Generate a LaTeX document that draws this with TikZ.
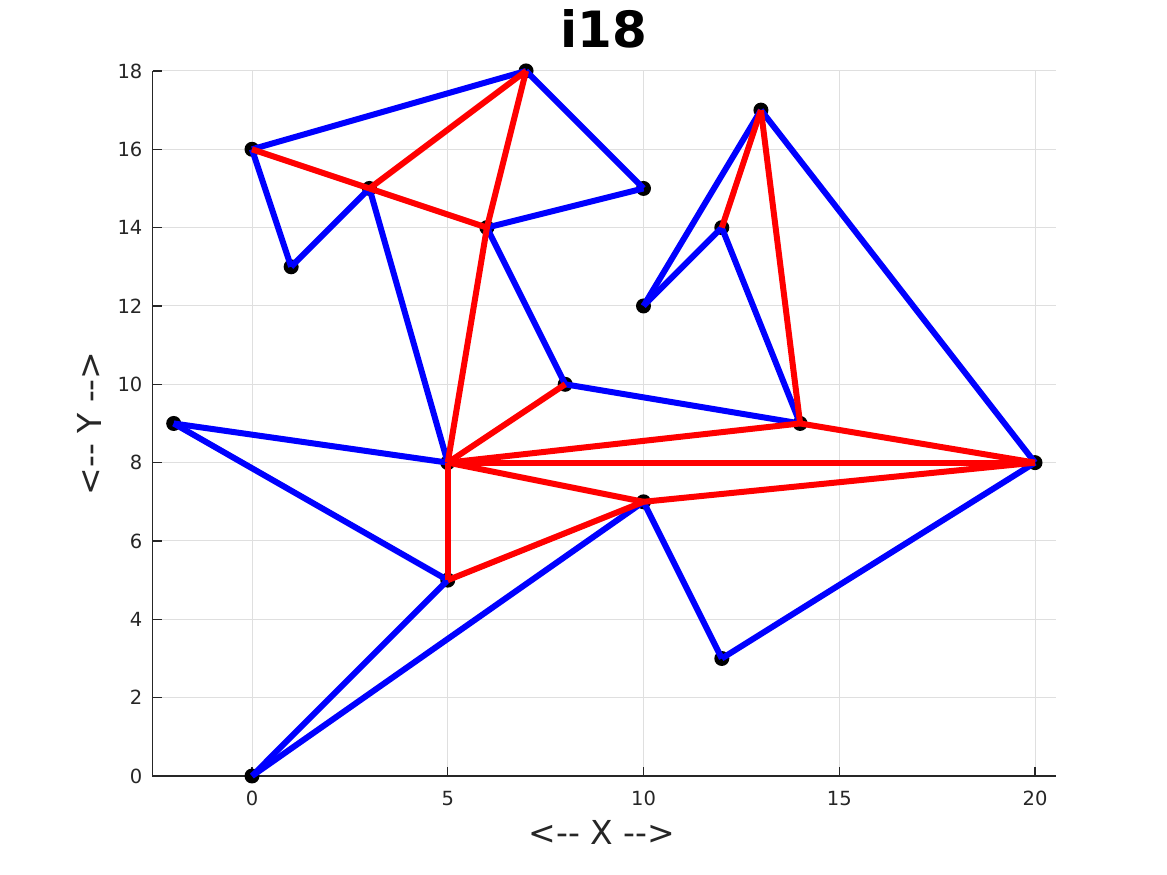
\documentclass[tikz,border=0pt]{standalone}
\usepackage{fontspec}
\setmainfont{DejaVu Sans}
\definecolor{gridgray}{HTML}{DFDFDF}
\definecolor{axisgray}{HTML}{262626}
\tikzset{
  gridline/.style={draw=gridgray, line width=1pt},
  axisline/.style={draw=axisgray, line width=1.2pt},
  dot/.style={circle, fill=black, inner sep=0pt, minimum size=15pt},
  bedge/.style={draw=blue, line width=6pt},
  redge/.style={draw=red, line width=6pt},
  ticklab/.style={text=axisgray, font=\fontsize{19.5}{23}\selectfont, inner sep=0pt},
  axlabel/.style={text=axisgray, font=\fontsize{33}{38}\selectfont, inner sep=0pt, anchor=base},
  titlelab/.style={text=black, font=\bfseries\fontsize{50}{56}\selectfont, inner sep=0pt, anchor=base}
}
\begin{document}
\begin{tikzpicture}[x=39.15pt, y=39.17pt]
\useasboundingbox (-252pt,-99pt) rectangle (915pt,776pt);
% grid
\foreach \yy in {0,2,...,18} \draw[gridline] (-2.54,\yy) -- (20.54,\yy);
\foreach \xx in {0,5,10,15,20} \draw[gridline] (\xx,0) -- (\xx,18);
% axes
\draw[axisline] (-2.54,18) -- (-2.54,0) -- (20.54,0);
\foreach \xx in {0,5,10,15,20} {
  \draw[axisline] (\xx,0) -- ++(0,9pt);
  \node[ticklab, anchor=base] at ([yshift=-30pt]\xx,0) {\xx};
}
\foreach \yy in {0,2,...,18} {
  \draw[axisline] (-2.54,\yy) -- ++(9pt,0);
  \node[ticklab, anchor=east] at ([xshift=-10pt]-2.54,\yy) {\yy};
}
% labels
\node[axlabel] (xl) at (350pt,-69pt) {<{-}{-} X {-}{-}>};
\node[axlabel, rotate=90] (yl) at (-150pt,352.5pt) {<{-}{-} Y {-}{-}>};
\node[titlelab] (tt) at (352pt,728pt) {i18};
% points
\node[dot] (a) at (0,16) {};
\node[dot] (b) at (1,13) {};
\node[dot] (c) at (3,15) {};
\node[dot] (d) at (7,18) {};
\node[dot] (e) at (10,15) {};
\node[dot] (f) at (6,14) {};
\node[dot] (g) at (8,10) {};
\node[dot] (h) at (5,8) {};
\node[dot] (i) at (-2,9) {};
\node[dot] (j) at (5,5) {};
\node[dot] (k) at (0,0) {};
\node[dot] (l) at (10,7) {};
\node[dot] (m) at (12,3) {};
\node[dot] (n) at (20,8) {};
\node[dot] (o) at (14,9) {};
\node[dot] (p) at (12,14) {};
\node[dot] (q) at (10,12) {};
\node[dot] (r) at (13,17) {};
% blue edges
\foreach \s/\t in {a/d, d/e, a/b, b/c, c/h, f/e, f/g, g/o, i/h, i/j, j/k, k/l, l/m, m/n, q/r, q/p, p/o, r/n}
  \draw[bedge] (\s.center) -- (\t.center);
% red edges
\foreach \s/\t in {a/c, c/f, c/d, d/f, f/h, h/g, h/o, h/n, h/l, h/j, j/l, l/n, o/n, o/r, r/p}
  \draw[redge] (\s.center) -- (\t.center);
\end{tikzpicture}
\end{document}
